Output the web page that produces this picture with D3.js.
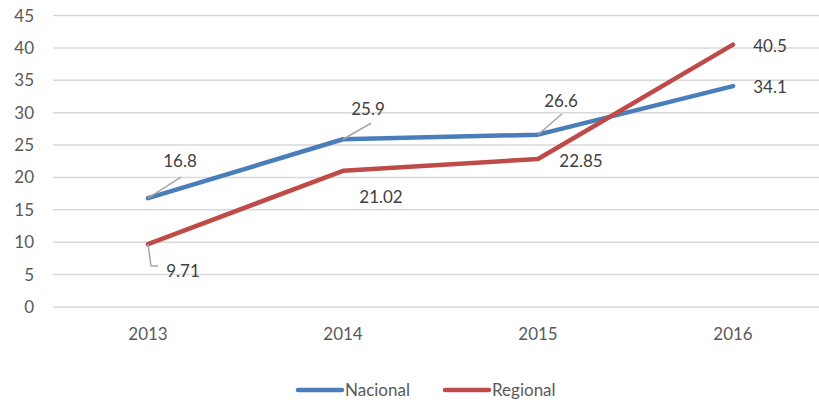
<!DOCTYPE html>
<html>
<head>
<meta charset="utf-8">
<script src="https://cdn.jsdelivr.net/npm/d3@7"></script>
<style>
  body { margin: 0; background: #fff; }
  text { font-family: Lato, "Open Sans", sans-serif; }
</style>
</head>
<body>
<svg id="chart" width="819" height="403"></svg>
<script>
const years = ['2013', '2014', '2015', '2016'];
const nacional = [16.8, 25.9, 26.6, 34.1];
const regional = [9.71, 21.02, 22.85, 40.5];
const yTicks = [0, 5, 10, 15, 20, 25, 30, 35, 40, 45];

// label offsets (dx, dy from point) and leader lines, like excel moved them
const nacLabels = [
  { dx: 32, dy: -31, lead: [[0, 0], [33, -21]] },
  { dx: 25, dy: -24, lead: [[0, 0], [28, -16]] },
  { dx: 23, dy: -28, lead: [[0, 0], [24, -21]] },
  { dx: 37, dy: 7, lead: null }
];
const regLabels = [
  { dx: 35, dy: 33, lead: [[0, 0], [3, 22], [10, 22]] },
  { dx: 38, dy: 32, lead: null },
  { dx: 43, dy: 8, lead: null },
  { dx: 37, dy: 7, lead: null }
];

const svg = d3.select('#chart'),
    width = +svg.attr('width'),
    height = +svg.attr('height');

let x = d3.scaleBand()
    .domain(years)
    .range([50.5, 830.5]);

let y = d3.scaleLinear()
    .domain([0, 45])
    .range([307, 15.5]);

const cx = d => x(d) + x.bandwidth() / 2;

// gridlines
svg.append('g')
  .selectAll('line')
  .data(yTicks)
  .enter().append('line')
    .attr('x1', 53)
    .attr('x2', width)
    .attr('y1', d => y(d))
    .attr('y2', d => y(d))
    .attr('stroke', '#d9d9d9')
    .attr('stroke-width', 1.5);

// y axis labels
svg.append('g')
  .selectAll('text')
  .data(yTicks)
  .enter().append('text')
    .attr('x', 34)
    .attr('y', d => y(d) + 6)
    .attr('text-anchor', 'end')
    .attr('font-size', 17)
    .attr('fill', '#595959')
    .text(d => d);

// x axis labels
svg.append('g')
  .selectAll('text')
  .data(years)
  .enter().append('text')
    .attr('x', d => cx(d))
    .attr('y', 340)
    .attr('text-anchor', 'middle')
    .attr('font-size', 17)
    .attr('fill', '#595959')
    .text(d => d);

const line = d3.line()
    .x((d, i) => cx(years[i]))
    .y(d => y(d));

const series = [
  { name: 'Nacional', values: nacional, color: '#4a7ebb', labels: nacLabels },
  { name: 'Regional', values: regional, color: '#be4b48', labels: regLabels }
];

series.forEach(s => {
  svg.append('path')
    .datum(s.values)
    .attr('d', line)
    .attr('fill', 'none')
    .attr('stroke', s.color)
    .attr('stroke-width', 4.5)
    .attr('stroke-linejoin', 'round')
    .attr('stroke-linecap', 'round');
});

// data labels
series.forEach(s => {
  s.values.forEach((v, i) => {
    let px = cx(years[i]), py = y(v);
    let lb = s.labels[i];
    if (lb.lead) {
      svg.append('path')
        .attr('d', d3.line()(lb.lead.map(p => [px + p[0], py + p[1]])))
        .attr('fill', 'none')
        .attr('stroke', '#a6a6a6')
        .attr('stroke-width', 1.5);
    }
    svg.append('text')
      .attr('x', px + lb.dx)
      .attr('y', py + lb.dy)
      .attr('text-anchor', 'middle')
      .attr('font-size', 17)
      .attr('fill', '#404040')
      .text(v);
  });
});

// legend
const legend = svg.append('g');
const legX = [298, 445];
series.forEach((s, i) => {
  legend.append('line')
    .attr('x1', legX[i])
    .attr('x2', legX[i] + 44)
    .attr('y1', 390)
    .attr('y2', 390)
    .attr('stroke', s.color)
    .attr('stroke-width', 4.5)
    .attr('stroke-linecap', 'round');
  legend.append('text')
    .attr('x', legX[i] + 47)
    .attr('y', 396)
    .attr('font-size', 17)
    .attr('fill', '#595959')
    .text(s.name);
});
</script>
</body>
</html>
